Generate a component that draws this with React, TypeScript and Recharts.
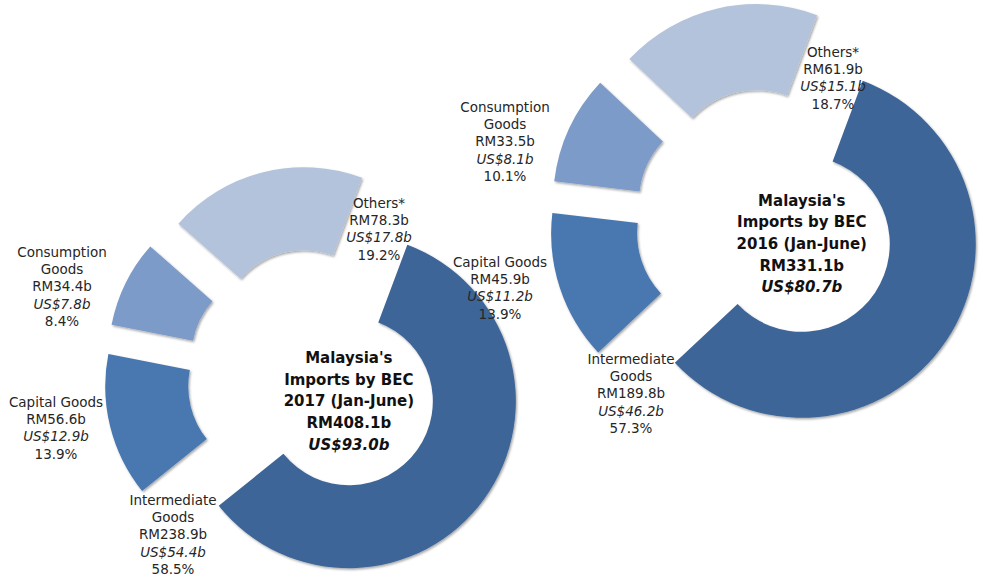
import { PieChart, Pie, Sector } from 'recharts'

// slice order follows the original: clockwise from ~20deg past 12 o'clock
const CATEGORIES = ['Intermediate Goods', 'Capital Goods', 'Consumption Goods', 'Others*']
const LABEL_LINES = [['Intermediate', 'Goods'], ['Capital Goods'], ['Consumption', 'Goods'], ['Others*']]

const RM_2017 = [238.9, 56.6, 34.4, 78.3]
const USD_2017 = [54.4, 12.9, 7.8, 17.8]
const PCT_2017 = [58.5, 13.9, 8.4, 19.2]
const TITLE_2017 = ["Malaysia's", 'Imports by BEC', '2017 (Jan-June)', 'RM408.1b', 'US$93.0b']

const RM_2016 = [189.8, 45.9, 33.5, 61.9]
const USD_2016 = [46.2, 11.2, 8.1, 15.1]
const PCT_2016 = [57.3, 13.9, 10.1, 18.7]
const TITLE_2016 = ["Malaysia's", 'Imports by BEC', '2016 (Jan-June)', 'RM331.1b', 'US$80.7b']

const COLORS = ['#3e6597', '#4877af', '#7d9bc8', '#b3c3dc']
const FONT = '"DejaVu Sans", Verdana, sans-serif'

// label anchors (centre x, first line y), manually placed like the source
const LABEL_POS_2017 = [[173, 500], [56, 402], [62, 252], [379, 203]]
const LABEL_POS_2016 = [[631, 359], [500, 262], [505, 107], [833, 52]]

const RAD = Math.PI / 180

function toRows(rm: number[]) {
  return CATEGORIES.map((name, i) => ({ name, value: rm[i] }))
}

function makeRenderer(
  rm: number[],
  usd: number[],
  pct: number[],
  pos: number[][],
  title: string[],
  explode: number,
) {
  return (p: any) => {
    const i = p.index
    const sx = p.cx + explode * Math.cos(-p.midAngle * RAD)
    const sy = p.cy + explode * Math.sin(-p.midAngle * RAD)
    const lines = [...LABEL_LINES[i], `RM${rm[i].toFixed(1)}b`, `US$${usd[i].toFixed(1)}b`, `${pct[i].toFixed(1)}%`]
    const usdRow = LABEL_LINES[i].length + 1
    return (
      <g>
        <Sector
          cx={sx}
          cy={sy}
          innerRadius={p.innerRadius}
          outerRadius={p.outerRadius}
          startAngle={p.startAngle}
          endAngle={p.endAngle}
          fill={COLORS[i]}
          stroke="none"
          filter="url(#sliceShadow)"
        />
        <text x={pos[i][0]} y={pos[i][1]} textAnchor="middle" fontFamily={FONT} fontSize={13.5} fill="#262626">
          {lines.map((t, k) => (
            <tspan
              key={k}
              x={pos[i][0]}
              y={pos[i][1] + k * 17.2}
              dominantBaseline="central"
              fontStyle={k === usdRow ? 'italic' : 'normal'}
            >
              {t}
            </tspan>
          ))}
        </text>
        {i === 0 && (
          <text x={sx} y={sy} textAnchor="middle" fontFamily={FONT} fontSize={15} fontWeight="bold" fill="#111">
            {title.map((t, k) => (
              <tspan
                key={k}
                x={sx}
                y={sy - 43 + k * 21.6}
                dominantBaseline="central"
                fontStyle={k === title.length - 1 ? 'italic' : 'normal'}
              >
                {t}
              </tspan>
            ))}
          </text>
        )}
      </g>
    )
  }
}

export default function App() {
  return (
    <div style={{ position: 'absolute', left: 0, top: 0, background: '#fff' }}>
      <PieChart width={983} height={578} margin={{ top: 0, right: 0, bottom: 0, left: 0 }}>
        <defs>
          <filter id="sliceShadow" x="-20%" y="-20%" width="140%" height="140%">
            <feDropShadow dx="1.2" dy="1.5" stdDeviation="1.1" floodColor="#000" floodOpacity="0.35" />
          </filter>
        </defs>
        <Pie
          data={toRows(RM_2017)}
          dataKey="value"
          nameKey="name"
          cx={314}
          cy={376}
          innerRadius={84}
          outerRadius={167}
          startAngle={69.5}
          endAngle={-290.5}
          fill="none"
          stroke="none"
          labelLine={false}
          label={makeRenderer(RM_2017, USD_2017, PCT_2017, LABEL_POS_2017, TITLE_2017, 43)}
          isAnimationActive={false}
        />
        <Pie
          data={toRows(RM_2016)}
          dataKey="value"
          nameKey="name"
          cx={766}
          cy={220}
          innerRadius={88}
          outerRadius={174}
          startAngle={69.5}
          endAngle={-290.5}
          fill="none"
          stroke="none"
          labelLine={false}
          label={makeRenderer(RM_2016, USD_2016, PCT_2016, LABEL_POS_2016, TITLE_2016, 43)}
          isAnimationActive={false}
        />
      </PieChart>
    </div>
  )
}
